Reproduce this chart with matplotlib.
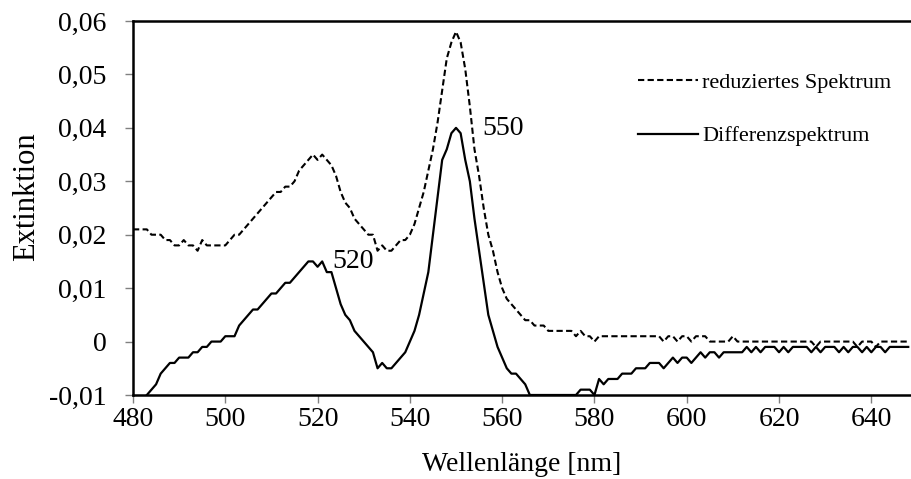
import numpy as np
import matplotlib
matplotlib.use("Agg")
import matplotlib.pyplot as plt
from matplotlib.ticker import FuncFormatter

plt.rcParams['font.family'] = ['Liberation Serif', 'DejaVu Serif']

# Wellenlaenge in nm, Schrittweite 1 nm
wl = np.arange(480, 649)

# reduziertes Spektrum (gestrichelt)
reduziert = [
    0.021, 0.021, 0.021, 0.021, 0.020, 0.020, 0.020, 0.019, 0.019, 0.018,  # 480-489
    0.018, 0.019, 0.018, 0.018, 0.017, 0.019, 0.018, 0.018, 0.018, 0.018,  # 490-499
    0.018, 0.019, 0.020, 0.020, 0.021, 0.022, 0.023, 0.024, 0.025, 0.026,  # 500-509
    0.027, 0.028, 0.028, 0.029, 0.029, 0.030, 0.032, 0.033, 0.034, 0.035,  # 510-519
    0.034, 0.035, 0.034, 0.033, 0.031, 0.028, 0.026, 0.025, 0.023, 0.022,  # 520-529
    0.021, 0.020, 0.020, 0.017, 0.018, 0.017, 0.017, 0.018, 0.019, 0.019,  # 530-539
    0.020, 0.022, 0.025, 0.028, 0.032, 0.036, 0.041, 0.047, 0.053, 0.056,  # 540-549
    0.058, 0.056, 0.051, 0.044, 0.036, 0.031, 0.025, 0.020, 0.017, 0.013,  # 550-559
    0.010, 0.008, 0.007, 0.006, 0.005, 0.004, 0.004, 0.003, 0.003, 0.003,  # 560-569
    0.002, 0.002, 0.002, 0.002, 0.002, 0.002, 0.001, 0.002, 0.001, 0.001,  # 570-579
    0.000, 0.001, 0.001, 0.001, 0.001, 0.001, 0.001, 0.001, 0.001, 0.001,  # 580-589
    0.001, 0.001, 0.001, 0.001, 0.001, 0.000, 0.001, 0.001, 0.000, 0.001,  # 590-599
    0.001, 0.000, 0.001, 0.001, 0.001, 0.000, 0.000, 0.000, 0.000, 0.000,  # 600-609
    0.001, 0.000, 0.000, 0.000, 0.000, 0.000, 0.000, 0.000, 0.000, 0.000,  # 610-619
    0.000, 0.000, 0.000, 0.000, 0.000, 0.000, 0.000, 0.000, -0.001, 0.000,  # 620-629
    0.000, 0.000, 0.000, 0.000, 0.000, 0.000, 0.000, -0.001, 0.000, 0.000,  # 630-639
    0.000, -0.001, 0.000, 0.000, 0.000, 0.000, 0.000, 0.000, 0.000,  # 640-648
]

# Differenzspektrum (durchgezogen)
differenz = [
    -0.013, -0.012, -0.011, -0.010, -0.009, -0.008, -0.006, -0.005, -0.004, -0.004,  # 480-489
    -0.003, -0.003, -0.003, -0.002, -0.002, -0.001, -0.001, 0.000, 0.000, 0.000,  # 490-499
    0.001, 0.001, 0.001, 0.003, 0.004, 0.005, 0.006, 0.006, 0.007, 0.008,  # 500-509
    0.009, 0.009, 0.010, 0.011, 0.011, 0.012, 0.013, 0.014, 0.015, 0.015,  # 510-519
    0.014, 0.015, 0.013, 0.013, 0.010, 0.007, 0.005, 0.004, 0.002, 0.001,  # 520-529
    0.000, -0.001, -0.002, -0.005, -0.004, -0.005, -0.005, -0.004, -0.003, -0.002,  # 530-539
    0.000, 0.002, 0.005, 0.009, 0.013, 0.020, 0.027, 0.034, 0.036, 0.039,  # 540-549
    0.040, 0.039, 0.034, 0.030, 0.023, 0.017, 0.011, 0.005, 0.002, -0.001,  # 550-559
    -0.003, -0.005, -0.006, -0.006, -0.007, -0.008, -0.010, -0.010, -0.010, -0.010,  # 560-569
    -0.010, -0.010, -0.010, -0.010, -0.010, -0.010, -0.010, -0.009, -0.009, -0.009,  # 570-579
    -0.010, -0.007, -0.008, -0.007, -0.007, -0.007, -0.006, -0.006, -0.006, -0.005,  # 580-589
    -0.005, -0.005, -0.004, -0.004, -0.004, -0.005, -0.004, -0.003, -0.004, -0.003,  # 590-599
    -0.003, -0.004, -0.003, -0.002, -0.003, -0.002, -0.002, -0.003, -0.002, -0.002,  # 600-609
    -0.002, -0.002, -0.002, -0.001, -0.002, -0.001, -0.002, -0.001, -0.001, -0.001,  # 610-619
    -0.002, -0.001, -0.002, -0.001, -0.001, -0.001, -0.001, -0.002, -0.001, -0.002,  # 620-629
    -0.001, -0.001, -0.001, -0.002, -0.001, -0.002, -0.001, -0.001, -0.002, -0.001,  # 630-639
    -0.002, -0.001, -0.001, -0.002, -0.001, -0.001, -0.001, -0.001, -0.001,  # 640-648
]

peak_labels = [520, 550]
# Textanker der Peak-Beschriftungen (nm, Extinktion)
label_pos = [(523.3, 0.0149), (555.6, 0.0398)]

x_ticks = [480, 500, 520, 540, 560, 580, 600, 620, 640]
y_ticks = [-0.01, 0, 0.01, 0.02, 0.03, 0.04, 0.05, 0.06]

fig = plt.figure(figsize=(9.12, 4.79), dpi=100)
ax = fig.add_axes([133 / 912, 84 / 479, 778 / 912, 374 / 479])

ax.plot(wl, reduziert, color='black', lw=1.5, dashes=(3, 1.6), label='reduziertes Spektrum')
ax.plot(wl, differenz, color='black', lw=1.6, label='Differenzspektrum')

for lab, (px, py) in zip(peak_labels, label_pos):
    ax.text(px, py, str(lab), fontsize=20, ha='left', va='center')

ax.set_xlim(480, 648.6)
ax.set_ylim(-0.01, 0.06)
ax.set_xticks(x_ticks)
ax.set_yticks(y_ticks)

def komma(v, pos):
    if abs(v) < 1e-9:
        return '0'
    return f'{v:.2f}'.replace('.', ',')

ax.yaxis.set_major_formatter(FuncFormatter(komma))
ax.tick_params(axis='both', labelsize=20, labelcolor='black', color='#808080',
               length=6, width=1, direction='out')
ax.tick_params(axis='y', pad=13)
ax.tick_params(axis='x', pad=3)

for s in ['left', 'bottom', 'top']:
    ax.spines[s].set_linewidth(1.8)
ax.spines['right'].set_visible(False)

ax.set_xlabel('Wellenlänge [nm]', fontsize=20)
ax.set_ylabel('Extinktion', fontsize=22)
ax.xaxis.set_label_coords(0.5, -0.152)
ax.yaxis.set_label_coords(-0.118, 0.53)

ax.legend(loc='upper left', bbox_to_anchor=(638 / 912, 1 - 72 / 479),
          bbox_transform=fig.transFigure, frameon=False, fontsize=16,
          handlelength=2.7, handletextpad=0.2, labelspacing=1.5,
          borderpad=0, borderaxespad=0)

fig.savefig('out.png', dpi=100)
